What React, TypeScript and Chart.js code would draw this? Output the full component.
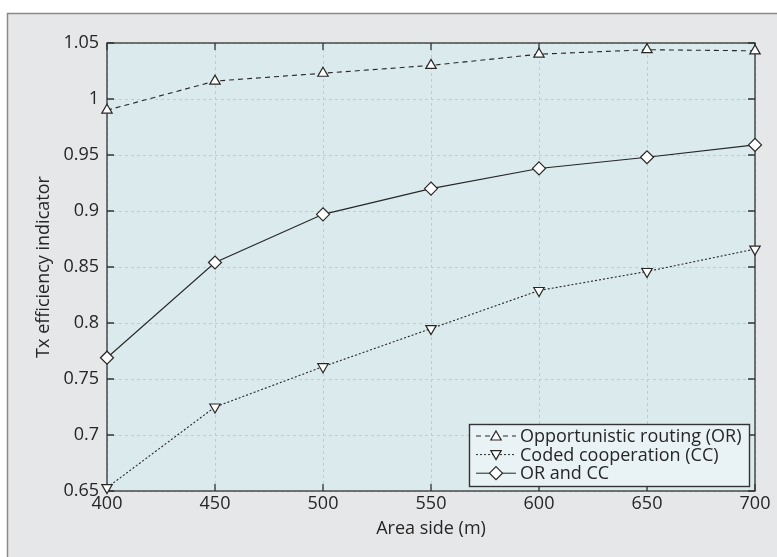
import React, { useEffect, useRef } from "react";
import { Chart, registerables } from "chart.js";

Chart.register(...registerables);

const areaSides = [400, 450, 500, 550, 600, 650, 700];
const orValues = [0.99, 1.016, 1.023, 1.03, 1.04, 1.044, 1.043];
const ccValues = [0.653, 0.725, 0.761, 0.795, 0.829, 0.846, 0.866];
const orccValues = [0.769, 0.854, 0.897, 0.92, 0.938, 0.948, 0.959];
const seriesLabels = ["Opportunistic routing (OR)", "Coded cooperation (CC)", "OR and CC"];
const xTitle = "Area side (m)";
const yTitle = "Tx efficiency indicator";

const FONT = "'Open Sans', 'DejaVu Sans', sans-serif";
const INK = "#262626";

function markerPath(ctx: CanvasRenderingContext2D, kind: string, x: number, y: number, r: number) {
  ctx.beginPath();
  if (kind === "up" || kind === "down") {
    const s = kind === "up" ? 1 : -1;
    for (let k = 0; k < 3; k++) {
      const a = (k * 2 * Math.PI) / 3;
      const px = x + Math.sin(a) * r;
      const py = y - s * Math.cos(a) * r;
      if (k === 0) ctx.moveTo(px, py);
      else ctx.lineTo(px, py);
    }
  } else {
    ctx.moveTo(x, y - r);
    ctx.lineTo(x + r, y);
    ctx.lineTo(x, y + r);
    ctx.lineTo(x - r, y);
  }
  ctx.closePath();
}

const decor = {
  id: "decor",
  beforeDraw(chart: any) {
    const { ctx, chartArea: a } = chart;
    ctx.save();
    ctx.fillStyle = "#ffffff";
    ctx.fillRect(0, 0, chart.width, chart.height);
    ctx.fillStyle = "#e6e7e8";
    ctx.fillRect(7, 13, chart.width - 7, chart.height - 13);
    ctx.strokeStyle = "#8a8a8a";
    ctx.lineWidth = 1.5;
    ctx.beginPath();
    ctx.moveTo(7.5, chart.height);
    ctx.lineTo(7.5, 13.5);
    ctx.lineTo(chart.width, 13.5);
    ctx.stroke();
    ctx.fillStyle = "#dbeaec";
    ctx.fillRect(a.left, a.top, a.right - a.left, a.bottom - a.top);
    ctx.restore();
  },
  beforeDatasetsDraw(chart: any) {
    const { ctx, chartArea: a, scales } = chart;
    ctx.save();
    ctx.strokeStyle = "#333";
    ctx.lineWidth = 1.3;
    ctx.strokeRect(a.left, a.top, a.right - a.left, a.bottom - a.top);
    const tl = 7;
    ctx.beginPath();
    scales.x.ticks.forEach((t: any) => {
      const px = scales.x.getPixelForValue(t.value);
      ctx.moveTo(px, a.bottom);
      ctx.lineTo(px, a.bottom - tl);
      ctx.moveTo(px, a.top);
      ctx.lineTo(px, a.top + tl);
    });
    scales.y.ticks.forEach((t: any) => {
      const py = scales.y.getPixelForValue(t.value);
      ctx.moveTo(a.left, py);
      ctx.lineTo(a.left + tl, py);
      ctx.moveTo(a.right, py);
      ctx.lineTo(a.right - tl, py);
    });
    ctx.stroke();
    ctx.restore();
  },
  afterDraw(chart: any) {
    const { ctx, chartArea: a } = chart;
    ctx.save();
    ctx.fillStyle = INK;
    ctx.font = `18px ${FONT}`;
    ctx.textAlign = "center";
    ctx.textBaseline = "middle";
    ctx.fillText(xTitle, (a.left + a.right) / 2, 529);
    ctx.translate(44, (a.top + a.bottom) / 2);
    ctx.rotate(-Math.PI / 2);
    ctx.fillText(yTitle, 0, 0);
    ctx.restore();

    // legend
    ctx.save();
    const bx = 469.5, by = 424.5, bw = 280, bh = 62;
    ctx.fillStyle = "#e9f3f5";
    ctx.fillRect(bx, by, bw, bh);
    ctx.strokeStyle = "#333";
    ctx.lineWidth = 1.4;
    ctx.strokeRect(bx, by, bw, bh);
    const kinds = ["up", "down", "diamond"];
    const dashes = [[5, 4], [2, 2], []];
    const radii = [6, 6, 6.5];
    chart.data.datasets.forEach((ds: any, i: number) => {
      const y = 436 + i * 18.6;
      ctx.strokeStyle = INK;
      ctx.lineWidth = 1;
      ctx.setLineDash(dashes[i]);
      ctx.beginPath();
      ctx.moveTo(476, y);
      ctx.lineTo(516, y);
      ctx.stroke();
      ctx.setLineDash([]);
      markerPath(ctx, kinds[i], 496, y + (i === 0 ? 1 : i === 1 ? -1 : 0), radii[i]);
      ctx.fillStyle = "#ffffff";
      ctx.fill();
      ctx.lineWidth = 1.2;
      ctx.stroke();
      ctx.fillStyle = INK;
      ctx.font = `18px ${FONT}`;
      ctx.textAlign = "left";
      ctx.textBaseline = "middle";
      ctx.fillText(ds.label, 520, y + 1);
    });
    ctx.restore();
  },
};

export default function App() {
  const ref = useRef<HTMLCanvasElement | null>(null);
  useEffect(() => {
    if (!ref.current) return;
    const mk = (vals: number[]) => vals.map((v, i) => ({ x: areaSides[i], y: v }));
    const common = {
      borderColor: INK,
      borderWidth: 1.1,
      pointBackgroundColor: "#ffffff",
      pointBorderColor: INK,
      pointBorderWidth: 1.2,
      tension: 0,
      clip: false as any,
    };
    const chart = new Chart(ref.current, {
      type: "line",
      data: {
        datasets: [
          { ...common, label: seriesLabels[0], data: mk(orValues), borderDash: [5, 4], pointStyle: "triangle", pointRadius: 6 },
          { ...common, label: seriesLabels[1], data: mk(ccValues), borderDash: [2, 2], pointStyle: "triangle", pointRotation: 180, pointRadius: 6 },
          { ...common, label: seriesLabels[2], data: mk(orccValues), pointStyle: "rectRot", pointRadius: 6.5 },
        ],
      },
      options: {
        responsive: false,
        animation: false,
        layout: { padding: { top: 43, right: 22, left: 0, bottom: 0 } },
        plugins: { legend: { display: false }, tooltip: { enabled: false } },
        scales: {
          x: {
            type: "linear",
            min: 400,
            max: 700,
            ticks: { stepSize: 50, color: INK, font: { family: FONT, size: 18 }, padding: 2, maxRotation: 0 },
            grid: { color: "#c2cacb", drawTicks: false, tickLength: 0 },
            border: { display: false, dash: [3, 3] },
            afterFit: (s: any) => { s.height = 66; },
          },
          y: {
            type: "linear",
            min: 0.65,
            max: 1.05,
            ticks: {
              stepSize: 0.05,
              color: INK,
              font: { family: FONT, size: 18 },
              padding: 8,
              callback: (v: any) => String(Number(Number(v).toFixed(2))),
            },
            grid: { color: "#c2cacb", drawTicks: false, tickLength: 0 },
            border: { display: false, dash: [3, 3] },
            afterFit: (s: any) => { s.width = 107; },
          },
        },
      },
      plugins: [decor],
    });
    return () => chart.destroy();
  }, []);
  return (
    <canvas
      ref={ref}
      width={777}
      height={557}
      style={{ position: "absolute", left: 0, top: 0, width: 777, height: 557 }}
    />
  );
}
